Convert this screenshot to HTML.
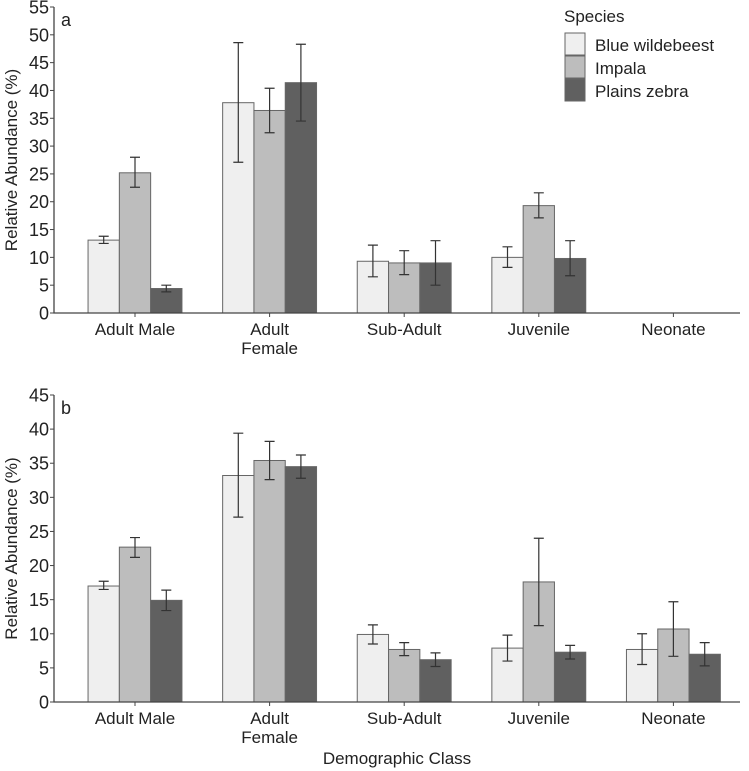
<!DOCTYPE html>
<html><head><meta charset="utf-8"><style>
html,body{margin:0;padding:0;background:#fff}
svg{display:block;font-family:"Liberation Sans",Arial,sans-serif;fill:#222}
</style></head><body>
<svg id="chart" width="749" height="771" viewBox="0 0 749 771"></svg>
<script>
const categories = ["Adult Male","Adult Female","Sub-Adult","Juvenile","Neonate"];
const species = ["Blue wildebeest","Impala","Plains zebra"];
const colors = ["#efefef","#bdbdbd","#606060"];
// Panel a
const aWildebeest = [13.1,37.8,9.3,10.0,null];
const aWildebeestLo = [12.5,27.1,6.5,8.2,null];
const aWildebeestHi = [13.8,48.6,12.2,11.9,null];
const aImpala = [25.2,36.4,9.0,19.3,null];
const aImpalaLo = [22.6,32.4,6.9,17.1,null];
const aImpalaHi = [28.0,40.4,11.2,21.6,null];
const aZebra = [4.4,41.4,9.0,9.8,null];
const aZebraLo = [3.8,34.5,5.0,6.7,null];
const aZebraHi = [5.0,48.3,13.0,13.0,null];
// Panel b
const bWildebeest = [17.0,33.2,9.9,7.9,7.7];
const bWildebeestLo = [16.5,27.1,8.5,6.0,5.5];
const bWildebeestHi = [17.7,39.4,11.3,9.8,10.0];
const bImpala = [22.7,35.4,7.7,17.6,10.7];
const bImpalaLo = [21.2,32.6,6.8,11.2,6.7];
const bImpalaHi = [24.1,38.2,8.7,24.0,14.7];
const bZebra = [14.9,34.5,6.2,7.3,7.0];
const bZebraLo = [13.4,32.8,5.2,6.3,5.3];
const bZebraHi = [16.4,36.2,7.2,8.3,8.7];
const aTicks = [0,5,10,15,20,25,30,35,40,45,50,55];
const bTicks = [0,5,10,15,20,25,30,35,40,45];

const svg = document.getElementById('chart');
const NS = "http://www.w3.org/2000/svg";
function mk(tag, attrs, parent){const e=document.createElementNS(NS,tag);for(const k in attrs)e.setAttribute(k,attrs[k]);(parent||svg).appendChild(e);return e;}

function panel(id, label, y0, yTop, ymax, ticks, vals, los, his){
  const g = mk('g',{});
  
  
  const xL=54, xR=740;
  const y = v => y0 - (v/ymax)*(y0-yTop);
  const xc = i => 135 + i*134.6;
  const bw = 31.3;
  for(let i=0;i<categories.length;i++){
    for(let s=0;s<3;s++){
      const v=vals[s][i]; if(v==null) continue;
      const x = xc(i) - 1.5*bw + s*bw;
      const r = mk('rect',{x:x,y:y(v),width:bw,height:y0-y(v),fill:colors[s],stroke:'#666','stroke-width':1},g);
      
      
      const cx=x+bw/2, lo=y(los[s][i]), hi=y(his[s][i]);
      const e = mk('path',{d:`M${cx},${lo}V${hi}M${cx-5},${lo}H${cx+5}M${cx-5},${hi}H${cx+5}`,stroke:'#333','stroke-width':1.2,fill:'none'},g);
      
      
    }
  }
  const ax = mk('path',{d:`M${xL},${yTop}V${y0}H${xR}`,stroke:'#444','stroke-width':1.3,fill:'none'},g);
  
  
  ticks.forEach(t=>{
    mk('line',{x1:xL-4,x2:xL,y1:y(t),y2:y(t),stroke:'#444'},g);
    const tx = mk('text',{x:xL-5,y:y(t)+6.5,'text-anchor':'end','font-size':18},g);
    tx.textContent=t;
    
    
  });
  categories.forEach((c,i)=>{
    mk('line',{x1:xc(i),x2:xc(i),y1:y0,y2:y0+4,stroke:'#444'},g);
    const parts = c==="Adult Female"?["Adult","Female"]:[c];
    parts.forEach((p,k)=>{
      const tx = mk('text',{x:xc(i),y:y0+22+k*19,'text-anchor':'middle','font-size':17},g);
      tx.textContent=p;
      
      
    });
  });
  const yt = mk('text',{transform:`translate(17,${(y0+yTop)/2}) rotate(-90)`,'text-anchor':'middle','font-size':17},g);
  yt.textContent='Relative Abundance (%)';
  
  
  const pl = mk('text',{x:61,y:yTop+19,'font-size':18},g);
  pl.textContent=label;
  
  
}
panel('a','a',313,7,55,aTicks,[aWildebeest,aImpala,aZebra],[aWildebeestLo,aImpalaLo,aZebraLo],[aWildebeestHi,aImpalaHi,aZebraHi]);
panel('b','b',702,395,45,bTicks,[bWildebeest,bImpala,bZebra],[bWildebeestLo,bImpalaLo,bZebraLo],[bWildebeestHi,bImpalaHi,bZebraHi]);

const xt = mk('text',{x:397,y:764,'text-anchor':'middle','font-size':17});
xt.textContent='Demographic Class';



const lg = mk('g',{});


const lt = mk('text',{x:564,y:22,'font-size':17},lg);
lt.textContent='Species';
species.forEach((s,i)=>{
  const r = mk('rect',{x:565,y:33+i*23,width:20,height:22,fill:colors[i],stroke:'#666'},lg);
  
  
  const t = mk('text',{x:595,y:51+i*23,'font-size':17},lg);
  t.textContent=s;
  
  
});
</script>
</body></html>
